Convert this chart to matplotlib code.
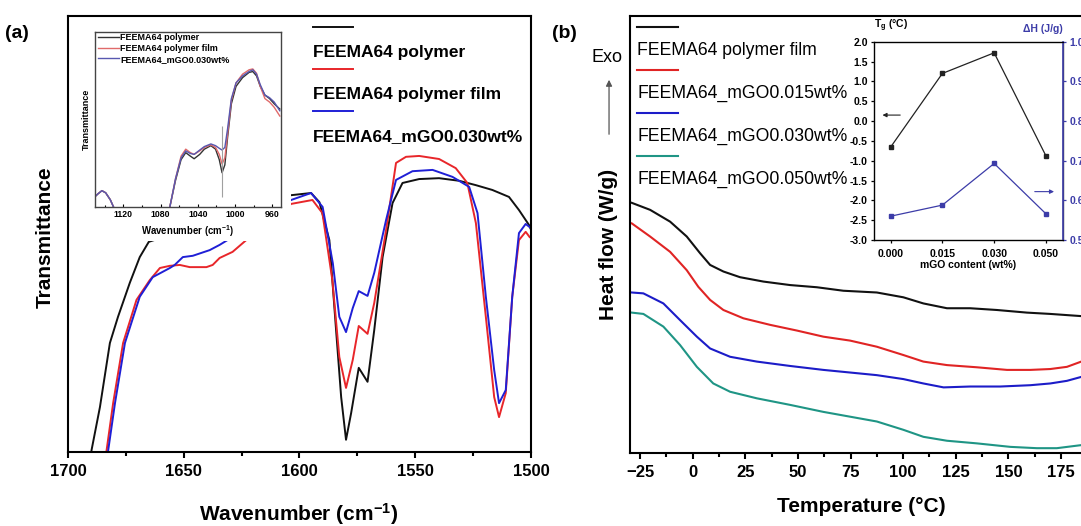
# -*- coding: utf-8 -*-
"""
FTIR 透射谱 (a) 与 DSC 热流曲线 (b) 双面板图
"""

import numpy as np
import matplotlib.pyplot as plt
from matplotlib.legend_handler import HandlerLine2D
from matplotlib.patches import Rectangle
from matplotlib.ticker import MultipleLocator, FixedLocator

plt.rcParams['font.family'] = ['Liberation Sans', 'DejaVu Sans']
plt.rcParams['font.weight'] = 'bold'
plt.rcParams['mathtext.fontset'] = 'custom'
plt.rcParams['mathtext.rm'] = 'Liberation Sans'
plt.rcParams['mathtext.bf'] = 'Liberation Sans:bold'
plt.rcParams['mathtext.it'] = 'Liberation Sans:italic'

# ---------------- (a) FTIR 主图数据 (波数 cm-1, 透射率 a.u.) ----------------
ir_labels = ['FEEMA64 polymer', 'FEEMA64 polymer film', 'FEEMA64_mGO0.030wt%']
ir_colors = ['#111111', '#e8262a', '#1f1fd6']

ir_wn_polymer = [1690.5, 1689.8, 1686.2, 1681.9, 1678.4, 1673.3, 1669.0, 1665.1,
                 1603.6, 1595.0, 1591.4, 1587.1, 1584.2, 1582.0, 1579.9, 1577.7,
                 1574.4, 1570.6, 1567.7, 1564.1, 1559.8, 1555.5, 1548.3, 1539.7,
                 1531.0, 1523.8, 1516.7, 1509.5, 1505.2, 1500.9, 1500.0]
ir_t_polymer = [-2, 0.5, 10.3, 25.0, 31.0, 38.8, 44.7, 48.2,
                58.9, 59.4, 57.3, 48.6, 28.0, 12.6, 2.8, 8.9,
                19.3, 16.1, 28.0, 44.7, 57.1, 61.7, 62.6, 62.8,
                62.2, 61.2, 60.1, 58.5, 55.5, 52.1, 51.0]

ir_wn_film = [1684.0, 1683.3, 1680.5, 1676.2, 1670.4, 1664.7, 1660.3, 1656.0,
              1651.7, 1647.4, 1640.2, 1637.5, 1634.5, 1628.9, 1623.0, 1603.6,
              1594.4, 1590.1, 1585.8, 1582.8, 1579.9, 1577.0, 1574.4, 1570.6,
              1567.7, 1562.6, 1558.3, 1554.0, 1548.3, 1539.7, 1532.5, 1527.5,
              1523.8, 1519.5, 1515.9, 1513.8, 1510.9, 1508.1, 1505.2, 1502.3, 1500.6]
ir_t_film = [-2, 0.5, 11.2, 25.0, 34.9, 39.4, 42.2, 42.7,
             42.9, 42.4, 42.4, 42.9, 44.5, 45.9, 48.6, 56.9,
             57.8, 54.8, 39.4, 21.8, 14.7, 21.1, 28.9, 27.1,
             34.2, 50.9, 66.3, 67.7, 67.9, 67.2, 65.1, 61.7,
             52.5, 31.0, 12.6, 8.0, 13.5, 35.6, 48.6, 50.5, 49.3]

ir_wn_mgo = [1683.3, 1682.6, 1679.7, 1675.4, 1669.0, 1663.4, 1656.0, 1653.9,
             1650.4, 1646.1, 1638.8, 1634.5, 1630.2, 1603.6, 1595.0, 1590.0,
             1585.6, 1582.8, 1579.9, 1577.0, 1574.4, 1570.6, 1567.7, 1562.6,
             1558.3, 1551.2, 1542.5, 1533.9, 1526.7, 1523.1, 1519.5, 1515.9,
             1513.8, 1510.9, 1508.1, 1505.2, 1502.3, 1500.6]
ir_t_mgo = [-2, 0.5, 11.2, 25.0, 35.6, 40.1, 42.2, 42.9,
            44.7, 45.0, 46.3, 47.5, 48.9, 57.8, 59.4, 56.2,
            43.3, 31.0, 27.5, 33.0, 36.9, 35.8, 41.1, 53.2,
            62.4, 64.4, 64.7, 63.1, 60.8, 54.8, 35.6, 18.8,
            11.2, 14.2, 35.6, 50.2, 52.3, 51.6]

# ---------------- (a) 插图数据 (1150-950 cm-1) ----------------
ins_colors = ['#333333', '#e06a6a', '#5858b0']
ins_wn = [1152, 1147, 1143, 1139, 1134, 1129, 1100, 1072,
          1070, 1064, 1058, 1053, 1048, 1044, 1038, 1033, 1026, 1021, 1017,
          1014, 1011, 1008, 1004, 999, 992, 985, 981, 977, 973, 968, 963, 958, 952]
ins_t_polymer = [5.0, 7.5, 9.2, 8.0, 4.0, -2.0, -20, -5,
                 0, 15, 27, 31, 29, 27.5, 30, 33, 35, 33, 27,
                 19.5, 24, 40, 59, 69, 74, 77, 77.5, 75, 69, 64, 62, 59, 56]
ins_t_film = [5.0, 7.5, 9.2, 8.0, 4.0, -2.0, -20, -5,
              0, 16, 29, 33, 31, 30, 32, 34, 35.5, 34, 30,
              24.5, 28, 42, 61, 71, 76, 78.5, 79, 76.5, 69, 62, 60, 57, 52]
ins_t_mgo = [5.0, 7.5, 9.2, 8.0, 4.0, -2.0, -20, -5,
             0, 16, 28, 32, 30.5, 30, 32.5, 34.5, 36, 35, 33.5,
             32.5, 34, 45, 62, 71, 75, 77.5, 78.5, 76, 70, 64, 62.5, 60, 55]
ins_marker_wn = 1013.7
ins_marker_t = (5.7, 46.3)

# ---------------- (b) DSC 数据 (温度 °C, 热流 a.u.) ----------------
dsc_labels = ['FEEMA64 polymer film', 'FEEMA64_mGO0.015wt%',
              'FEEMA64_mGO0.030wt%', 'FEEMA64_mGO0.050wt%']
dsc_colors = ['#111111', '#e02424', '#1c1cc8', '#1f9585']

dsc_t_film = [-28.9, -20.2, -10.7, -2.8, 3.5, 8.3, 14.6, 22.5, 33.6, 46.3, 59.0,
              71.6, 87.5, 100.1, 109.6, 120.8, 131.8, 144.5, 158.8, 169.9, 184.6]
dsc_h_film = [57.2, 55.6, 52.9, 49.5, 45.7, 43.0, 41.5, 40.2, 39.2, 38.4, 37.9,
              37.1, 36.7, 35.6, 34.2, 33.1, 33.1, 32.7, 32.1, 31.8, 31.3]

dsc_t_015 = [-28.9, -20.2, -10.7, -2.8, 2.7, 8.3, 14.6, 24.1, 36.8, 49.5, 62.1,
             74.8, 87.5, 100.1, 109.6, 120.8, 135.0, 149.3, 160.4, 169.9, 177.8, 184.6]
dsc_h_015 = [52.5, 49.5, 46.0, 41.8, 38.0, 35.0, 32.7, 30.8, 29.3, 28.0, 26.6,
             25.7, 24.3, 22.4, 20.9, 20.1, 19.6, 19.0, 19.0, 19.2, 19.7, 20.9]

dsc_t_030 = [-28.9, -23.4, -13.9, -6.0, 2.0, 8.3, 17.8, 30.5, 46.3, 62.1, 74.8,
             87.5, 100.1, 109.6, 119.2, 131.8, 146.1, 160.4, 169.9, 177.8, 184.6]
dsc_h_030 = [36.7, 36.5, 34.2, 30.4, 26.6, 23.9, 22.0, 20.9, 19.9, 19.0, 18.4,
             17.8, 16.9, 15.9, 15.0, 15.2, 15.2, 15.5, 15.9, 16.5, 17.4]

dsc_t_050 = [-28.9, -23.4, -13.9, -6.0, 2.0, 9.8, 17.8, 30.5, 46.3, 62.1, 74.8,
             87.5, 100.1, 109.6, 120.8, 135.0, 150.9, 163.5, 173.0, 184.6]
dsc_h_050 = [32.1, 31.8, 28.9, 24.7, 19.7, 15.9, 14.0, 12.5, 11.0, 9.4, 8.3,
             7.2, 5.3, 3.7, 2.8, 2.2, 1.4, 1.1, 1.1, 1.8]

# ---------------- (b) 插图数据 ----------------
mgo_content = ['0.000', '0.015', '0.030', '0.050']
tg_shift = [-0.66, 1.20, 1.72, -0.88]
delta_h = [0.56, 0.588, 0.693, 0.566]
dh_color = '#3c3ca8'


class HandlerLineAbove(HandlerLine2D):
    """图例线段画在文字上方"""

    def __init__(self, lift, **kw):
        super().__init__(**kw)
        self.lift = lift

    def create_artists(self, legend, orig_handle, xdescent, ydescent,
                       width, height, fontsize, trans):
        artists = super().create_artists(legend, orig_handle, xdescent, ydescent,
                                         width, height, fontsize, trans)
        for a in artists:
            a.set_ydata(np.asarray(a.get_ydata(), dtype=float) + self.lift)
        return artists


def style_main_axis(ax):
    for s in ax.spines.values():
        s.set_linewidth(1.5)
    ax.tick_params(axis='x', which='major', direction='out', length=4.5,
                   width=1.5, labelsize=12, pad=4)
    ax.tick_params(axis='x', which='minor', direction='out', length=3,
                   width=1.5)
    ax.tick_params(axis='y', which='both', left=False, labelleft=False)


def draw_ftir(fig):
    ax = fig.add_axes([0.0629, 0.1407, 0.4283, 0.8289])
    series = [(ir_wn_polymer, ir_t_polymer), (ir_wn_film, ir_t_film),
              (ir_wn_mgo, ir_t_mgo)]
    handles = []
    for (wn, t), c, lab in zip(series, ir_colors, ir_labels):
        h, = ax.plot(wn, t, color=c, lw=1.4, label=lab)
        handles.append(h)
    ax.set_xlim(1700, 1500)
    ax.set_ylim(0, 100)
    ax.xaxis.set_major_locator(MultipleLocator(50))
    ax.xaxis.set_minor_locator(MultipleLocator(25))
    style_main_axis(ax)

    ax.set_xlabel(r'Wavenumber (cm$^{\mathbf{-1}}$)', fontsize=15, fontweight='bold')
    ax.xaxis.set_label_coords(0.499, -0.113)
    ax.set_ylabel('Transmittance', fontsize=15, fontweight='bold')
    ax.yaxis.set_label_coords(-0.028, 0.493)

    # 插图区域白底遮挡
    ax.add_patch(Rectangle((-0.02, 0.484), 0.5016, 0.6, transform=ax.transAxes,
                           facecolor='white', edgecolor='none', zorder=2.2))

    leg = ax.legend(handles=handles, loc='upper left', bbox_to_anchor=(0.529, 0.934),
                    frameon=False, fontsize=12.5, borderpad=0, borderaxespad=0,
                    handlelength=2.3, handletextpad=-2.3, labelspacing=1.55,
                    handler_map={h: HandlerLineAbove(17.5) for h in handles})
    leg.set_zorder(5)

    # 插图
    axi = fig.add_axes([0.0879, 0.607, 0.1718, 0.3316])
    for t, c, lab in zip([ins_t_polymer, ins_t_film, ins_t_mgo], ins_colors, ir_labels):
        axi.plot(ins_wn, t, color=c, lw=1.0, label=lab)
    axi.vlines(ins_marker_wn, *ins_marker_t, color='#a0a0a0', lw=0.8)
    axi.set_xlim(1150.4, 951)
    axi.set_ylim(0, 100)
    axi.xaxis.set_major_locator(FixedLocator([1120, 1080, 1040, 1000, 960]))
    axi.xaxis.set_minor_locator(FixedLocator([1140, 1100, 1060, 1020, 980]))
    axi.tick_params(axis='x', which='major', direction='in', length=2.5,
                    width=0.8, labelsize=6.3, pad=2.5)
    axi.tick_params(axis='x', which='minor', direction='in', length=1.5, width=0.8)
    axi.tick_params(axis='y', which='both', left=False, labelleft=False)
    for s in axi.spines.values():
        s.set_linewidth(1.0)
        s.set_color('#444444')
    axi.set_xlabel(r'Wavenumber (cm$^{\mathbf{-1}}$)', fontsize=6.9,
                   fontweight='bold', labelpad=3)
    axi.set_ylabel('Transmittance', fontsize=6.5, fontweight='bold', labelpad=3)
    axi.legend(loc='upper left', bbox_to_anchor=(0.018, 0.996), frameon=False,
               fontsize=6.5, borderpad=0, borderaxespad=0, handlelength=2.3,
               handletextpad=0.15, labelspacing=0.2)
    return ax


def draw_dsc(fig):
    ax = fig.add_axes([0.5828, 0.1388, 0.4191, 0.8314])
    series = [(dsc_t_film, dsc_h_film), (dsc_t_015, dsc_h_015),
              (dsc_t_030, dsc_h_030), (dsc_t_050, dsc_h_050)]
    handles = []
    for (t, h), c, lab in zip(series, dsc_colors, dsc_labels):
        ln, = ax.plot(t, h, color=c, lw=1.5, label=lab)
        handles.append(ln)
    ax.set_xlim(-29.75, 185.45)
    ax.set_ylim(0, 100)
    ax.xaxis.set_major_locator(MultipleLocator(25))
    ax.xaxis.set_minor_locator(MultipleLocator(12.5))
    style_main_axis(ax)
    ax.spines['right'].set_visible(False)

    ax.set_xlabel('Temperature (°C)', fontsize=15, fontweight='bold')
    ax.xaxis.set_label_coords(0.511, -0.1)
    ax.set_ylabel('Heat flow (W/g)', fontsize=15, fontweight='bold')
    ax.yaxis.set_label_coords(-0.026, 0.478)

    leg = ax.legend(handles=handles, loc='upper left', bbox_to_anchor=(0.0155, 0.94),
                    frameon=False, prop={'size': 12.7, 'weight': 'normal'},
                    borderpad=0, borderaxespad=0, handlelength=2.3,
                    handletextpad=-2.3, labelspacing=1.47,
                    handler_map={h: HandlerLineAbove(15.5) for h in handles})
    leg.set_zorder(5)

    # Exo 方向箭头
    fig.text(0.5619, 0.8916, 'Exo', fontsize=13, fontweight='normal',
             ha='center', va='center')
    fig.add_artist(plt.Annotation('', xy=(0.5634, 0.8536), xytext=(0.5634, 0.7395),
                                  xycoords='figure fraction',
                                  arrowprops=dict(arrowstyle='-|>', color='#555555',
                                                  lw=0.9, mutation_scale=9)))

    # 插图: Tg 与 ΔH
    axi = fig.add_axes([0.8085, 0.5437, 0.1749, 0.377])
    pos = np.arange(len(mgo_content))
    axi.plot(pos, tg_shift, color='#222222', lw=0.9, marker='s', ms=3.2)
    axi.set_xlim(-0.32, 3.33)
    axi.set_ylim(-3.0, 2.0)
    axi.set_xticks(pos)
    axi.set_xticklabels(mgo_content)
    axi.yaxis.set_major_locator(MultipleLocator(0.5))
    axi.yaxis.set_major_formatter(plt.FormatStrFormatter('%.1f'))
    axi.tick_params(axis='both', direction='out', length=2.5, width=0.9,
                    labelsize=7.5, pad=2)
    axi.tick_params(axis='x', pad=4)
    for s in axi.spines.values():
        s.set_linewidth(1.0)
        s.set_color('#444444')
    axi.set_xlabel('mGO content (wt%)', fontsize=7.5, fontweight='bold', labelpad=1)
    axi.text(0.0, 1.04, r'T$_{\mathbf{g}}$ (°C)', transform=axi.transAxes,
             fontsize=7.5, fontweight='bold', ha='left', va='bottom')
    axi.annotate('', xy=(-0.21, 0.15), xytext=(0.24, 0.15),
                 arrowprops=dict(arrowstyle='-|>', color='#222222', lw=0.8,
                                 mutation_scale=6))

    axr = axi.twinx()
    axr.plot(pos, delta_h, color=dh_color, lw=0.9, marker='s', ms=3.2)
    axr.set_ylim(0.5, 1.0)
    axr.yaxis.set_major_locator(MultipleLocator(0.1))
    axr.yaxis.set_major_formatter(plt.FormatStrFormatter('%.1f'))
    axr.tick_params(axis='y', direction='out', length=2.5, width=0.9,
                    labelsize=7.5, pad=2, colors=dh_color)
    axr.spines['right'].set_color(dh_color)
    axr.spines['right'].set_linewidth(1.2)
    axr.text(1.0, 1.04, 'ΔH (J/g)', transform=axr.transAxes, color=dh_color,
             fontsize=7.5, fontweight='bold', ha='right', va='bottom')
    axr.annotate('', xy=(3.21, 0.622), xytext=(2.73, 0.622),
                 arrowprops=dict(arrowstyle='-|>', color=dh_color, lw=0.8,
                                 mutation_scale=6))
    return ax


if __name__ == "__main__":
    fig = plt.figure(figsize=(10.81, 5.26), dpi=100)
    draw_ftir(fig)
    draw_dsc(fig)
    fig.text(0.005, 0.937, '(a)', fontsize=14, fontweight='bold', va='center')
    fig.text(0.511, 0.937, '(b)', fontsize=14, fontweight='bold', va='center')
    fig.savefig('out.png', dpi=100)
